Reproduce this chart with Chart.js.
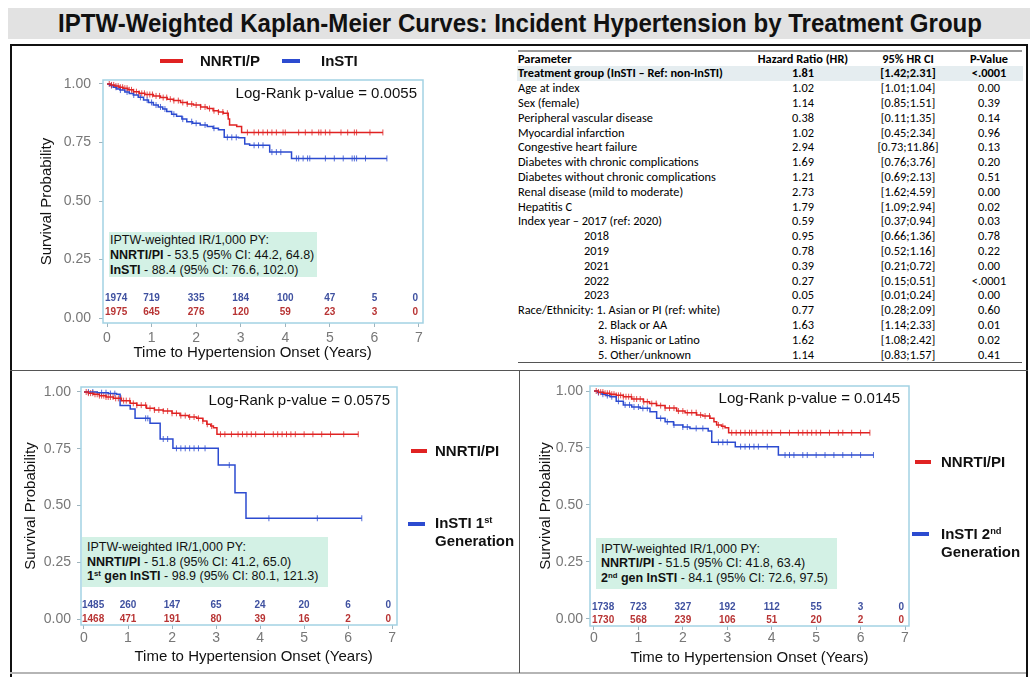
<!DOCTYPE html>
<html><head><meta charset="utf-8">
<script src="https://cdn.jsdelivr.net/npm/chart.js@4.4.1/dist/chart.umd.min.js"></script>
<style>
html,body{margin:0;padding:0;background:#fff;}
body{width:1036px;height:677px;position:relative;overflow:hidden;font-family:'Liberation Sans',Arial,sans-serif;color:#111;}
.abs{position:absolute;}
canvas{position:absolute;}
.lg{position:absolute;font-weight:bold;font-size:15px;line-height:18px;white-space:nowrap;color:#111;}
.lgline{position:absolute;height:4px;}
.lr{position:absolute;font-size:15px;line-height:18px;white-space:nowrap;text-align:right;}
.ir{position:absolute;background:#d3f1e5;font-size:12.5px;white-space:nowrap;box-sizing:border-box;}
sup{font-size:0.62em;vertical-align:0.5em;line-height:0;}
.trow{position:absolute;left:517px;width:506px;white-space:nowrap;color:#000;}
.tc{position:absolute;top:0;}
</style></head><body>
<div id="root"></div>
<script>
// ---------------- DATA ----------------
const xTicks = [0,1,2,3,4,5,6,7];
const yTicks = [0,0.25,0.5,0.75,1];

// Panel 1 : NNRTI/PI vs InSTI
const p1NnrtiT = [0,0.08,0.17,0.27,0.36,0.47,0.59,0.72,0.85,1.04,1.2,1.35,1.49,1.65,1.8,1.94,2.1,2.25,2.38,2.5,2.61,2.72,2.75,2.91,3.02,6.19];
const p1NnrtiS = [1,0.996,0.991,0.986,0.982,0.975,0.967,0.96,0.955,0.949,0.942,0.935,0.929,0.921,0.915,0.91,0.902,0.895,0.886,0.88,0.875,0.85,0.825,0.818,0.793,0.793];
const p1InstiT = [0,0.06,0.14,0.22,0.29,0.4,0.5,0.59,0.7,0.82,0.93,1.04,1.15,1.25,1.34,1.45,1.56,1.68,1.79,1.92,2.09,2.25,2.38,2.5,2.63,2.95,3.09,3.2,3.65,4.14,6.28];
const p1InstiS = [1,0.993,0.986,0.979,0.974,0.966,0.959,0.953,0.943,0.932,0.921,0.91,0.902,0.893,0.882,0.871,0.862,0.85,0.839,0.832,0.825,0.818,0.811,0.805,0.772,0.77,0.744,0.738,0.709,0.682,0.682];
const p1NnrtiCens = [0.05,0.1,0.15,0.2,0.25,0.3,0.35,0.4,0.45,0.5,0.55,0.6,0.66,0.72,0.78,0.84,0.9,0.96,1.02,1.1,1.18,1.26,1.34,1.42,1.5,1.6,1.7,1.8,1.9,2.0,2.1,2.2,2.3,2.4,2.5,2.6,2.7,3.15,3.3,3.4,3.5,3.6,3.7,3.8,3.95,4.0,4.3,4.45,4.6,4.75,4.8,4.9,5.0,5.25,5.4,5.55,5.6,5.9,6.19];
const p1InstiCens = [0.1,0.2,0.3,0.45,0.6,0.75,0.9,1.0,1.1,1.2,1.3,1.5,1.7,1.9,2.0,2.2,2.4,2.7,2.8,2.9,3.3,3.4,3.5,3.7,3.8,3.9,4.25,4.3,4.4,4.5,4.55,4.9,5.1,5.3,5.5,5.55,5.6,5.8,6.28];
const p1RiskInsti = [1974,719,335,184,100,47,5,0];
const p1RiskNnrti = [1975,645,276,120,59,23,3,0];

// Panel 2 : NNRTI/PI vs InSTI 1st generation
const p2NnrtiT = [0,0.1,0.22,0.35,0.5,0.67,0.85,1.05,1.2,1.42,1.6,1.8,2.0,2.18,2.38,2.56,2.7,2.79,2.88,2.94,3.02,6.23];
const p2NnrtiS = [1,0.995,0.99,0.984,0.978,0.972,0.962,0.95,0.942,0.928,0.921,0.916,0.906,0.896,0.89,0.884,0.872,0.858,0.85,0.843,0.814,0.814];
const p2InstiT = [0,0.3,0.55,0.74,0.82,1.05,1.16,1.5,1.73,2.02,3.05,3.43,3.68,6.31];
const p2InstiS = [1,0.997,0.993,0.99,0.94,0.925,0.884,0.862,0.793,0.752,0.678,0.556,0.444,0.444];
const p2NnrtiCens = [0.05,0.1,0.15,0.2,0.25,0.3,0.35,0.4,0.45,0.5,0.55,0.6,0.66,0.72,0.78,0.84,0.9,0.96,1.04,1.12,1.2,1.3,1.4,1.5,1.6,1.7,1.8,1.9,2.0,2.1,2.2,2.3,2.4,2.5,2.6,2.7,2.8,2.9,3.1,3.2,3.35,3.5,3.6,3.7,3.8,3.9,4.1,4.3,4.4,4.5,4.6,4.7,4.8,5.0,5.2,5.4,5.6,5.9,6.23];
const p2InstiCens = [0.1,0.2,0.4,0.5,0.6,0.7,1.4,1.45,1.8,1.9,2.1,2.2,2.3,2.4,2.5,2.6,2.75,3.3,4.2,5.3,6.31];
const p2RiskInsti = [1485,260,147,65,24,20,6,0];
const p2RiskNnrti = [1468,471,191,80,39,16,2,0];

// Panel 3 : NNRTI/PI vs InSTI 2nd generation
const p3NnrtiT = [0,0.1,0.22,0.36,0.5,0.66,0.85,1.11,1.25,1.41,1.6,1.86,2.05,2.31,2.45,2.61,2.7,2.76,2.87,2.95,3.03,6.21];
const p3NnrtiS = [1,0.995,0.99,0.986,0.981,0.975,0.965,0.953,0.945,0.936,0.925,0.912,0.905,0.895,0.89,0.88,0.865,0.851,0.845,0.839,0.817,0.817];
const p3InstiT = [0,0.08,0.18,0.27,0.36,0.5,0.66,0.85,1.04,1.26,1.41,1.6,1.79,2.0,2.16,2.57,2.65,3.18,4.15,6.29];
const p3InstiS = [1,0.993,0.986,0.98,0.975,0.955,0.939,0.93,0.924,0.909,0.88,0.865,0.851,0.842,0.836,0.825,0.775,0.756,0.719,0.719];
const p3NnrtiCens = [0.05,0.1,0.15,0.2,0.25,0.3,0.35,0.4,0.45,0.5,0.55,0.6,0.66,0.72,0.78,0.84,0.9,0.96,1.04,1.12,1.2,1.3,1.4,1.5,1.6,1.7,1.8,1.9,2.0,2.1,2.2,2.3,2.4,2.5,2.6,2.8,2.9,3.1,3.2,3.3,3.4,3.5,3.55,3.65,3.8,3.9,4.0,4.2,4.4,4.6,4.7,4.8,4.9,5.0,5.1,5.3,5.5,5.6,5.8,6.0,6.21];
const p3InstiCens = [0.1,0.2,0.3,0.4,0.55,0.7,0.8,0.9,1.0,1.1,1.2,1.5,1.65,1.8,2.0,2.1,2.3,2.45,2.8,2.9,3.0,3.3,3.4,3.5,3.6,3.7,3.9,4.3,4.4,4.5,4.7,4.8,5.0,5.2,5.4,5.6,5.8,6.0,6.29];
const p3RiskInsti = [1738,723,327,192,112,55,3,0];
const p3RiskNnrti = [1730,568,239,106,51,20,2,0];

const logRankP = ["0.0055","0.0575","0.0145"];
const irNnrti = [["53.5","44.2","64.8"],["51.8","41.2","65.0"],["51.5","41.8","63.4"]];
const irInsti = [["88.4","76.6","102.0"],["98.9","80.1","121.3"],["84.1","72.6","97.5"]];

// Cox model table
const tHeader = ["Parameter","Hazard Ratio (HR)","95% HR CI","P-Value"];
const tParams = ["Treatment group (InSTI – Ref: non-InSTI)","Age at index","Sex (female)","Peripheral vascular disease","Myocardial infarction","Congestive heart failure","Diabetes with chronic complications","Diabetes without chronic complications","Renal disease (mild to moderate)","Hepatitis C","Index year – 2017 (ref: 2020)","2018","2019","2021","2022","2023","Race/Ethnicity: 1. Asian or PI (ref: white)","2. Black or AA","3. Hispanic or Latino","5. Other/unknown"];
const tLevel = [0,0,0,0,0,0,0,0,0,0,0,1,1,1,1,1,0,2,2,2];
const tHR = ["1.81","1.02","1.14","0.38","1.02","2.94","1.69","1.21","2.73","1.79","0.59","0.95","0.78","0.39","0.27","0.05","0.77","1.63","1.62","1.14"];
const tCI = ["[1.42;2.31]","[1.01;1.04]","[0.85;1.51]","[0.11;1.35]","[0.45;2.34]","[0.73;11.86]","[0.76;3.76]","[0.69;2.13]","[1.62;4.59]","[1.09;2.94]","[0.37;0.94]","[0.66;1.36]","[0.52;1.16]","[0.21;0.72]","[0.15;0.51]","[0.01;0.24]","[0.28;2.09]","[1.14;2.33]","[1.08;2.42]","[0.83;1.57]"];
const tP = ["<.0001","0.00","0.39","0.14","0.96","0.13","0.20","0.51","0.00","0.02","0.03","0.78","0.22","0.00","<.0001","0.00","0.60","0.01","0.02","0.41"];

// ---------------- STYLE ----------------
const RED = '#e02222', BLUE = '#2c4bd0';
const RISK_RED = '#b83434', RISK_BLUE = '#3f51a0';
const FONT = "'Liberation Sans', Arial, sans-serif";
const root = document.getElementById('root');

function el(tag, cls, style, html) {
  const e = document.createElement(tag);
  if (cls) e.className = cls;
  Object.assign(e.style, style || {});
  if (html !== undefined) e.innerHTML = html;
  root.appendChild(e);
  return e;
}

// Title bar
el('div','abs',{left:'8px',top:'8px',width:'1022px',height:'31px',background:'#e2e2e2'});
const title = el('div','abs',{left:'0px',top:'8px',height:'31px',lineHeight:'31px',fontFamily:"'Liberation Sans Narrow','Liberation Sans',Arial,sans-serif",fontWeight:'bold',fontSize:'25px',whiteSpace:'nowrap',transformOrigin:'0 50%'},'IPTW-Weighted Kaplan-Meier Curves: Incident Hypertension by Treatment Group');
{ const w = title.getBoundingClientRect().width; const sx = 924 / w; title.style.transform = 'scaleX(' + sx + ')'; title.style.left = '58px'; }

// Frame
el('div','abs',{left:'10px',top:'44px',width:'2px',height:'633px',background:'#111'});
el('div','abs',{left:'10px',top:'44px',width:'1018px',height:'2px',background:'#111'});
el('div','abs',{left:'1026px',top:'44px',width:'2px',height:'633px',background:'#111'});
el('div','abs',{left:'10px',top:'672px',width:'1016px',height:'2px',background:'#b5b5b5'});
el('div','abs',{left:'10px',top:'370px',width:'1018px',height:'1px',background:'#555'});
el('div','abs',{left:'519px',top:'370px',width:'1px',height:'303px',background:'#555'});

// ---------------- TABLE ----------------
(function(){
  const c = document.createElement('canvas').getContext('2d');
  const fam = "'Carlito','Lato','Open Sans',sans-serif";
  c.font = '12px ' + fam;
  const w = c.measureText('Diabetes without chronic complications').width;
  const fs = 12 * 198 / w;
  const rowH = 14.8, top0 = 51.6;
  el('div','abs',{left:'518px',top:'50px',width:'504px',height:'2px',background:'#9a9a9a'});
  const cols = [803, 908, 989];
  function row(i, cells, bold, indent, bg) {
    const r = el('div','trow',{top:(top0 + rowH*i)+'px',height:rowH+'px',lineHeight:rowH+'px',fontFamily:fam,fontSize:fs+'px',fontWeight:bold?'bold':'normal',background:bg||'transparent'});
    const p = document.createElement('span'); p.className='tc'; p.style.left=(1+indent)+'px'; p.textContent=cells[0]; r.appendChild(p);
    for (let k=0;k<3;k++){
      const s = document.createElement('span'); s.className='tc'; s.textContent=cells[k+1];
      r.appendChild(s);
      const sw = s.getBoundingClientRect().width;
      s.style.left = (cols[k]-517-sw/2)+'px';
    }
  }
  row(0, tHeader, true, 0);
  const indents = [0, 66, 80];
  for (let i=0;i<tParams.length;i++) {
    row(i+1, [tParams[i], tHR[i], tCI[i], tP[i]], i===0, indents[tLevel[i]], i===0 ? '#e5edf0' : null);
  }
  el('div','abs',{left:'518px',top:(top0+rowH*21)+'px',width:'504px',height:'1px',background:'#555'});
})();

// ---------------- KM CHARTS ----------------
function stepVal(t, s, x) {
  let v = s[0];
  for (let i=0;i<t.length;i++) { if (t[i] <= x) v = s[i]; }
  return v;
}

const boxPlugin = {
  id: 'plotBox',
  afterDraw(chart) {
    const {ctx, chartArea:a} = chart;
    ctx.save(); ctx.strokeStyle = '#a3d2e3'; ctx.lineWidth = 1.5;
    ctx.strokeRect(a.left, a.top, a.right-a.left, a.bottom-a.top);
    ctx.restore();
  }
};
const riskPlugin = {
  id: 'riskTable',
  afterDatasetsDraw(chart, args, opts) {
    const {ctx} = chart; const xs = chart.scales.x, ys = chart.scales.y;
    ctx.save(); ctx.font = 'bold 10px ' + FONT; ctx.textBaseline = 'middle';
    opts.rows.forEach(r => {
      r.values.forEach((v, i) => {
        const px = xs.getPixelForValue(xTicks[i]);
        const py = ys.getPixelForValue(r.y);
        ctx.fillStyle = r.color;
        if (i === 0) { ctx.textAlign = 'left'; ctx.fillText(String(v), px - 2, py); }
        else if (i === r.values.length-1) { ctx.textAlign = 'right'; ctx.fillText(String(v), px - 1, py); }
        else { ctx.textAlign = 'center'; ctx.fillText(String(v), px, py); }
      });
    });
    ctx.restore();
  }
};

function makeKM(p) {
  const cv = document.createElement('canvas');
  cv.width = p.w; cv.height = p.h;
  cv.style.left = p.left + 'px'; cv.style.top = p.top + 'px';
  cv.style.width = p.w + 'px'; cv.style.height = p.h + 'px';
  root.appendChild(cv);
  const curve = (t, s, col) => ({data: t.map((x,i)=>({x, y:s[i]})), showLine:true, stepped:true, borderColor:col, borderWidth:1.5, pointRadius:0, fill:false});
  const cens = (t, s, c, col) => ({data: c.map(x=>({x, y:stepVal(t,s,x)})), showLine:false, pointStyle:'line', rotation:90, pointRadius:3, borderColor:col + 'cc', borderWidth:1, pointHoverRadius:0});
  new Chart(cv, {
    type: 'scatter',
    data: { datasets: [
      curve(p.nT, p.nS, RED), curve(p.iT, p.iS, BLUE),
      cens(p.nT, p.nS, p.nC, RED), cens(p.iT, p.iS, p.iC, BLUE)
    ]},
    options: {
      responsive:false, animation:false, devicePixelRatio: 1,
      layout:{padding:p.pad},
      plugins:{legend:{display:false}, tooltip:{enabled:false},
        riskTable:{rows:[{values:p.riskI, color:RISK_BLUE, y:p.riskY[0]},{values:p.riskN, color:RISK_RED, y:p.riskY[1]}]}},
      events: [],
      scales:{
        x:{type:'linear', min:p.xMin, max:p.xMax,
          afterBuildTicks: s => { s.ticks = xTicks.map(v=>({value:v})); },
          afterFit: s => { s.height = p.xH; },
          ticks:{autoSkip:false, color:'#777', font:{size:14, family:FONT}, padding:p.xtPad, maxRotation:0, callback:v=>String(v)},
          grid:{display:true, drawOnChartArea:false, drawTicks:true, tickLength:4, color:'#9fb4bd'},
          border:{display:false},
          title:{display:true, text:p.xTitle, color:'#111', font:{size:15, family:FONT}, padding:{top:0,bottom:p.xtitlePad}}
        },
        y:{type:'linear', min:p.yMin, max:p.yMax,
          afterBuildTicks: s => { s.ticks = yTicks.map(v=>({value:v})); },
          afterFit: s => { s.width = p.yW; },
          ticks:{autoSkip:false, color:'#777', font:{size:14, family:FONT}, padding:p.ytPad, callback:v=>v.toFixed(2)},
          grid:{display:true, drawOnChartArea:false, drawTicks:true, tickLength:4, color:'#9fb4bd'},
          border:{display:false},
          title:{display:true, text:'Survival Probability', color:'#111', font:{size:15, family:FONT}, padding:{top:p.ytitlePad,bottom:0}}
        }
      }
    },
    plugins:[boxPlugin, riskPlugin]
  });
}

const XT = 'Time to Hypertension Onset (Years)';
const NB = '\u00a0';
makeKM({left:12, top:47, w:500, h:320, pad:{left:0,top:33,right:89,bottom:0}, yW:91, xH:44,
  ytitlePad:26, ytPad:8, xtPad:3, xtitlePad:5, xMin:-0.09, xMax:7.09, yMin:-0.021, yMax:1.017,
  xTitle: XT + NB.repeat(5),
  nT:p1NnrtiT, nS:p1NnrtiS, iT:p1InstiT, iS:p1InstiS, nC:p1NnrtiCens, iC:p1InstiCens,
  riskI:p1RiskInsti, riskN:p1RiskNnrti, riskY:[0.085,0.026]});
makeKM({left:12, top:372, w:505, h:300, pad:{left:0,top:15,right:120,bottom:0}, yW:69, xH:47,
  ytitlePad:10, ytPad:6, xtPad:1, xtitlePad:6, xMin:-0.068, xMax:7.11, yMin:-0.026, yMax:1.022,
  xTitle: NB.repeat(7) + XT,
  nT:p2NnrtiT, nS:p2NnrtiS, iT:p2InstiT, iS:p2InstiS, nC:p2NnrtiCens, iC:p2InstiCens,
  riskI:p2RiskInsti, riskN:p2RiskNnrti, riskY:[0.062,0.0]});
makeKM({left:521, top:372, w:505, h:300, pad:{left:0,top:14,right:117,bottom:0}, yW:69, xH:46,
  ytitlePad:16, ytPad:3, xtPad:0, xtitlePad:5, xMin:-0.09, xMax:7.09, yMin:-0.031, yMax:1.022,
  xTitle: XT,
  nT:p3NnrtiT, nS:p3NnrtiS, iT:p3InstiT, iS:p3InstiS, nC:p3NnrtiCens, iC:p3InstiCens,
  riskI:p3RiskInsti, riskN:p3RiskNnrti, riskY:[0.053,-0.004]});

// ---------------- OVERLAYS ----------------
// Panel 1 legend (top)
el('div','lgline',{left:'160px',top:'59px',width:'23px',background:RED});
el('div','lg',{left:'200px',top:'52px'},'NNRTI/P');
el('div','lgline',{left:'282px',top:'59px',width:'18px',background:BLUE});
el('div','lg',{left:'321px',top:'52px'},'InSTI');
// Panel 2 legend (right)
el('div','lgline',{left:'411px',top:'449px',width:'16px',background:RED});
el('div','lg',{left:'435px',top:'442px'},'NNRTI/PI');
el('div','lgline',{left:'408px',top:'522px',width:'17px',background:BLUE});
el('div','lg',{left:'435px',top:'514px'},'InSTI 1<sup>st</sup><br>Generation');
// Panel 3 legend (right)
el('div','lgline',{left:'915px',top:'460px',width:'16px',background:RED});
el('div','lg',{left:'941px',top:'453px'},'NNRTI/PI');
el('div','lgline',{left:'912px',top:'532px',width:'17px',background:BLUE});
el('div','lg',{left:'941px',top:'525px'},'InSTI 2<sup>nd</sup><br>Generation');

// Log-rank texts
const lrPos = [[417,84],[390,391],[900,389]];
lrPos.forEach((q,i)=>{ el('div','lr',{left:(q[0]-300)+'px',top:q[1]+'px',width:'300px'},'Log-Rank p-value = ' + logRankP[i]); });

// IR boxes
const irBoxes = [
  {x:109,y:232,w:208,h:45,pt:1.2,lh:14.7,pl:1,g:'InSTI'},
  {x:82,y:537,w:246,h:50,pt:3.4,lh:14.5,pl:5,g:'1<sup>st</sup> gen InSTI'},
  {x:596,y:538,w:241,h:51,pt:3.7,lh:14.65,pl:5,g:'2<sup>nd</sup> gen InSTI'}
];
irBoxes.forEach((b,i)=>{
  const n = irNnrti[i], s = irInsti[i];
  el('div','ir',{left:b.x+'px',top:b.y+'px',width:b.w+'px',height:b.h+'px',paddingTop:b.pt+'px',paddingLeft:b.pl+'px',lineHeight:b.lh+'px'},
    'IPTW-weighted IR/1,000 PY:<br><b>NNRTI/PI</b> - ' + n[0] + ' (95% CI: ' + n[1] + ', ' + n[2] + ')<br><b>' + b.g + '</b> - ' + s[0] + ' (95% CI: ' + s[1] + ', ' + s[2] + ')');
});
</script>
</body></html>
